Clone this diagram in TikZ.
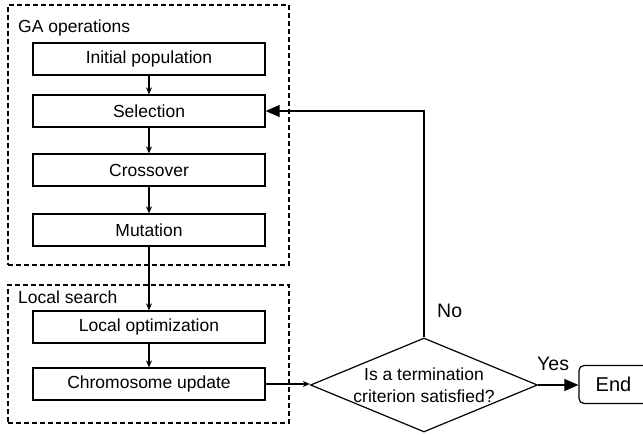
\documentclass[tikz,border=0pt]{standalone}
\usepackage{fontspec}
\setmainfont{Liberation Sans}
\usetikzlibrary{arrows.meta,shapes.geometric}
\tikzset{%
  opbox/.style      = {shape=rectangle, draw, line width=1.2pt,%
                       minimum width=232pt, minimum height=32pt, inner sep=0pt},%
  groupbox/.style   = {shape=rectangle, draw, line width=1.1pt,%
                       dash pattern=on 5pt off 3pt, inner sep=0pt},%
  grouplabel/.style = {anchor=base west, inner sep=0pt},%
  decision/.style   = {shape=diamond, draw, line width=1.2pt, align=center,%
                       aspect=2.415, inner sep=-6pt,%
                       minimum width=227pt, minimum height=94pt},%
  endbox/.style     = {shape=rectangle, rounded corners=5pt, draw, line width=1.2pt,%
                       minimum width=69pt, minimum height=38pt,%
                       font=\fontsize{20}{24}\selectfont},%
  answer/.style     = {anchor=base west, inner sep=0pt,%
                       font=\fontsize{19.5}{23}\selectfont},%
  flow/.style       = {-{Stealth[length=7pt,width=6pt]}, line width=1.2pt},%
  bigflow/.style    = {-{Triangle[length=14pt,width=12pt]}, line width=1.2pt}%
}

\begin{document}
\begin{tikzpicture}[x=1pt,y=-1pt,
	every node/.style={font=\fontsize{17.5}{22}\selectfont}]%
	\useasboundingbox (0,0) rectangle (643,435);%
	% groups
	\node [groupbox, minimum width=281pt, minimum height=260pt] (ga) at (148.5,135) {};%
	\node [grouplabel] (galabel) at (18,33) {GA operations};%
	\node [groupbox, minimum width=281pt, minimum height=138pt] (ls) at (148.5,354) {};%
	\node [grouplabel] (lslabel) at (18,304) {Local search};%
	% steps
	\node [opbox] (init)   at (149,59)  {Initial population};%
	\node [opbox] (sel)    at (149,111) {Selection};%
	\node [opbox] (cross)  at (149,170) {Crossover};%
	\node [opbox] (mut)    at (149,230) {Mutation};%
	\node [opbox] (locopt) at (149,327) {Local optimization};%
	\node [opbox] (chrom)  at (149,384) {Chromosome update};%
	\node [decision] (dec) at (424,385) {Is a termination\\criterion satisfied?};%
	\node [endbox] (fin) at (613.5,384.5) {End};%
	\node [answer] (no)  at (437,318) {No};%
	\node [answer] (yes) at (537,371) {Yes};%
	% connectors
	\draw [flow] (init) -- (sel);%
	\draw [flow] (sel) -- (cross);%
	\draw [flow] (cross) -- (mut);%
	\draw [flow] (mut) -- (locopt);%
	\draw [flow] (locopt) -- (chrom);%
	\draw [flow] (chrom.east) -- (chrom.east -| dec.west);%
	\draw [bigflow] (dec.north) |- (sel.east);%
	\draw [bigflow] (dec.east) -- (dec.east -| fin.west);%
\end{tikzpicture}
\end{document}
